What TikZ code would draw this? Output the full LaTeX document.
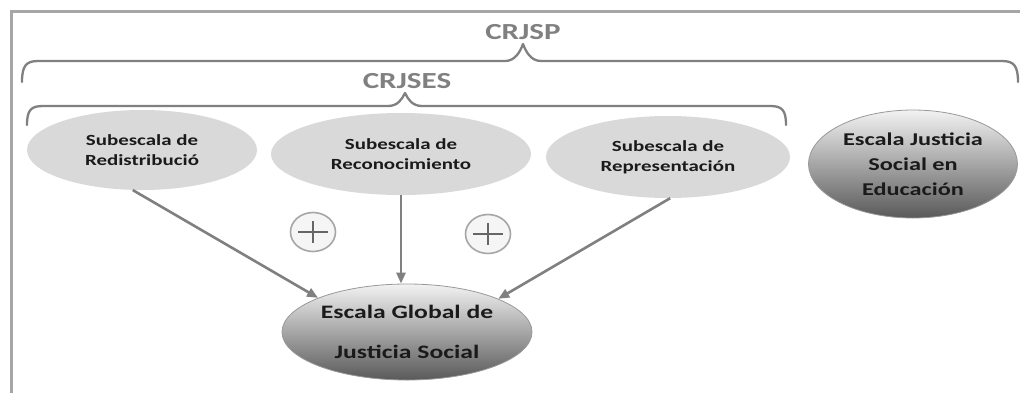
\documentclass[tikz,border=0pt]{standalone}
\usepackage{fontspec}
\setmainfont{Carlito}[FakeStretch=1.35]
\usetikzlibrary{shapes.geometric,arrows.meta}
\definecolor{framegray}{HTML}{A6A6A6}
\definecolor{linegray}{HTML}{808080}
\definecolor{subfill}{HTML}{D9D9D9}
\definecolor{txt}{HTML}{1A1A1A}
\begin{document}
\begin{tikzpicture}[x=1pt,y=-1pt,
  sub/.style={ellipse, fill=subfill, inner sep=0pt, align=center, font=\bfseries\fontsize{15.5}{20}\selectfont, text=txt},
  big/.style={ellipse, draw=black!40, line width=0.8pt, top color=black!5, bottom color=black!65, inner sep=0pt, align=center, text=txt},
  conn/.style={draw=linegray, line width=2.6pt, -{Triangle[length=11pt,width=9pt]}},
  brace/.style={draw=linegray, line width=2.3pt, line cap=round, line join=round},
  lbl/.style={font=\bfseries\fontsize{23}{27}\selectfont, text=linegray},
  plus/.style={ellipse, draw=framegray, fill=black!4, line width=1.6pt, minimum width=45pt, minimum height=39pt, inner sep=0pt},
  plusmark/.style={draw=black!60, line width=2.8pt}
]
\useasboundingbox (0,0) rectangle (1020,392);
\fill[white] (0,0) rectangle (1020,392);
\draw[framegray, line width=3pt] (11,400) -- (11,11) -- (1030,11);

% braces
\draw[brace] (22,82) .. controls (22,66) and (26,61) .. (38,61) -- (505,61)
  .. controls (515,61) and (520,52) .. (523,44)
  .. controls (526,52) and (531,61) .. (541,61) -- (1002,61)
  .. controls (1014,61) and (1018,66) .. (1018,82);
\draw[brace] (27,125) .. controls (27,110) and (31,106) .. (43,106) -- (388,106)
  .. controls (398,106) and (402,99) .. (405,93)
  .. controls (408,99) and (412,106) .. (422,106) -- (770,106)
  .. controls (782,106) and (786,110) .. (786,125);
\node[lbl] (crjsp) at (523,32) {CRJSP};
\node[lbl] (crjses) at (407,81) {CRJSES};

% nodes
\node[sub, minimum width=230pt, minimum height=80pt] (redis) at (142,150) {Subescala de\\Redistribució};
\node[sub, minimum width=260pt, minimum height=82pt] (recon) at (401,154) {Subescala de\\Reconocimiento};
\node[sub, minimum width=244pt, minimum height=82pt] (repr) at (668,157) {Subescala de\\Representación};
\node[big, minimum width=209pt, minimum height=108pt, font=\bfseries\fontsize{18}{25}\selectfont] (esje) at (913,164) {Escala Justicia\\Social en\\Educación};
\node[big, minimum width=250pt, minimum height=96pt, font=\bfseries\fontsize{19}{40}\selectfont] (global) at (407,332) {Escala Global de\\Justicia Social};

% plus signs
\node[plus] (p1) at (313,232) {};
\node[plus] (p2) at (488,234) {};
\foreach \p in {p1,p2}{
  \draw[plusmark] ([xshift=-15pt]\p.center) -- ([xshift=15pt]\p.center);
  \draw[plusmark] ([yshift=11pt]\p.center) -- ([yshift=-11pt]\p.center);
}

% connectors
\draw[conn] (redis.-103) -- (global.159);
\draw[conn] (recon.south) -- (recon.south |- global.north);
\draw[conn] (repr.-87) -- (global.20);
\end{tikzpicture}
\end{document}
